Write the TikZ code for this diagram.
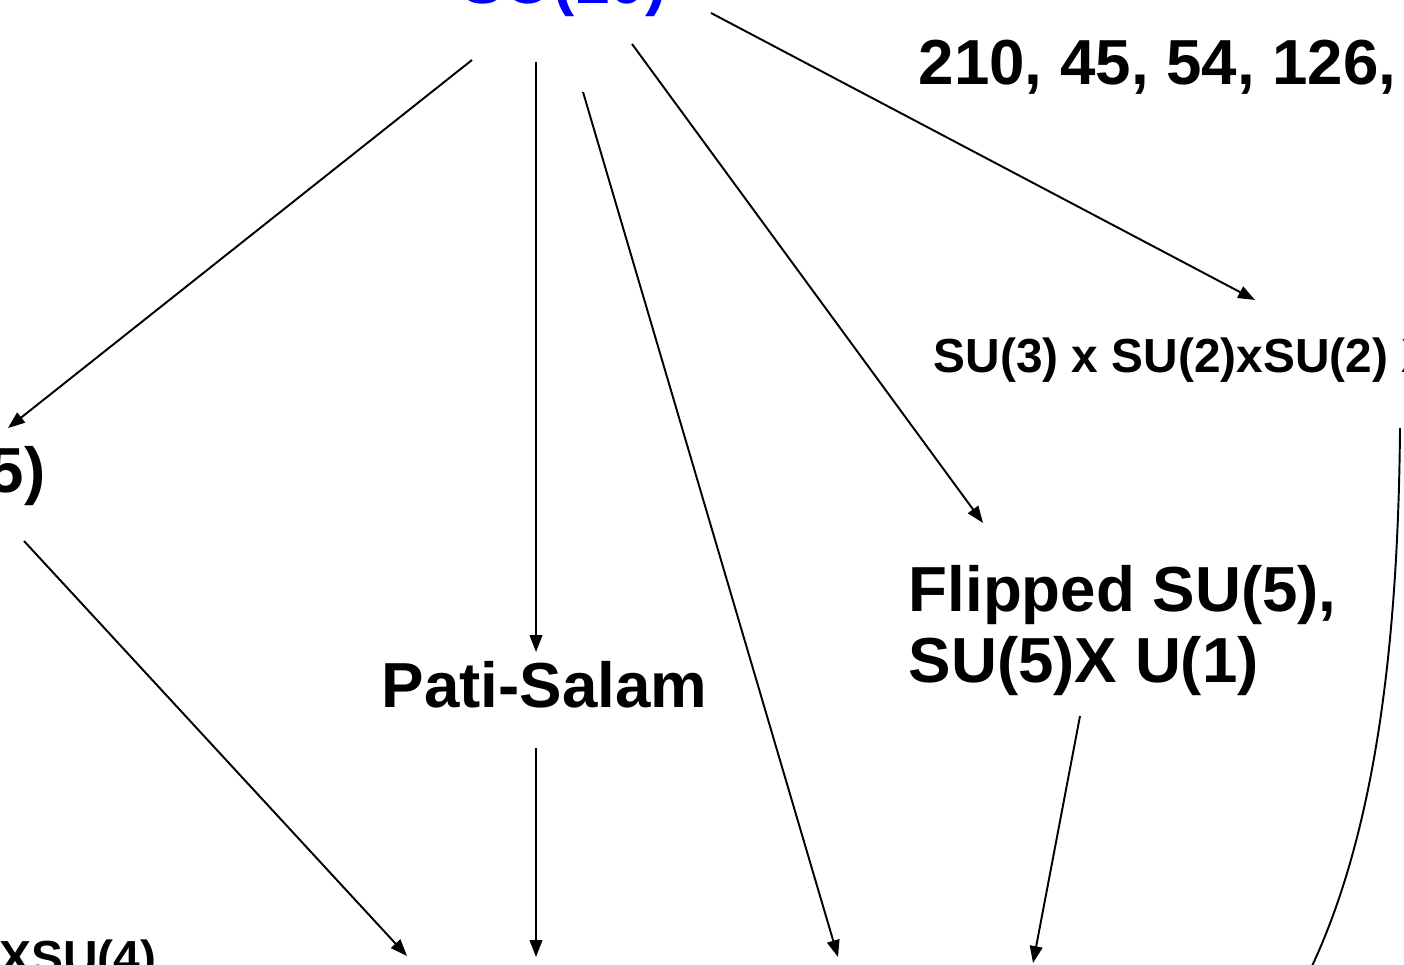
\documentclass[tikz,border=0pt]{standalone}
\usepackage{fontspec}
\setmainfont{Liberation Sans}
\usetikzlibrary{arrows.meta}
\tikzset{
  lbl/.style={inner sep=0pt, font=\bfseries\fontsize{18.1}{20.4}\selectfont},
  small/.style={inner sep=0pt, font=\bfseries\fontsize{13.6}{16}\selectfont},
  conn/.style={line width=0.55pt, -{Triangle[length=4.8pt,width=3.6pt]}}
}
\begin{document}
\begin{tikzpicture}[x=0.01cm,y=-0.01cm]
\useasboundingbox (0,0) rectangle (1404,965);
\clip (0,0) rectangle (1404,965);
% labels
\node[lbl, text=blue, anchor=base] (so10) at (564,4) {SO(10)};
\node[lbl, anchor=base west] (nums) at (918,85) {210, 45, 54, 126,};
\node[small, anchor=base west] (lr) at (933,373) {SU(3) x SU(2)xSU(2) X U(1)};
\node[lbl, anchor=base east] (su5) at (46,493) {SU(5)};
\node[lbl, anchor=base west] (ps) at (381,708) {Pati-Salam};
\node[lbl, anchor=base west, align=left] (flip) at (908,683) {Flipped SU(5),\\SU(5)X U(1)};
\node[small, anchor=base east] (su4) at (170,974) {XSU(4),};
% connector ends
\coordinate (a1s) at (472,60);   \coordinate (a1e) at (8,428);
\coordinate (a2s) at (536,62);   \coordinate (a2e) at (536,652);
\coordinate (a3s) at (583,92);   \coordinate (a3e) at (838,957);
\coordinate (a4s) at (632,44);   \coordinate (a4e) at (983,523);
\coordinate (a5s) at (711,13);   \coordinate (a5e) at (1255,300);
\coordinate (a6s) at (24,541);   \coordinate (a6e) at (407,956);
\coordinate (a7s) at (536,748);  \coordinate (a7e) at (536,957);
\coordinate (a8s) at (1080,716); \coordinate (a8e) at (1033,963);
\coordinate (a9s) at (1400,428); \coordinate (a9e) at (1303,985);
% connectors
\draw[conn] (a1s) -- (a1e);
\draw[conn] (a2s) -- (a2e);
\draw[conn] (a3s) -- (a3e);
\draw[conn] (a4s) -- (a4e);
\draw[conn] (a5s) -- (a5e);
\draw[conn] (a6s) -- (a6e);
\draw[conn] (a7s) -- (a7e);
\draw[conn] (a8s) -- (a8e);
\draw[conn] (a9s) .. controls (1398,660) and (1372,840) .. (a9e);
\end{tikzpicture}
\end{document}
